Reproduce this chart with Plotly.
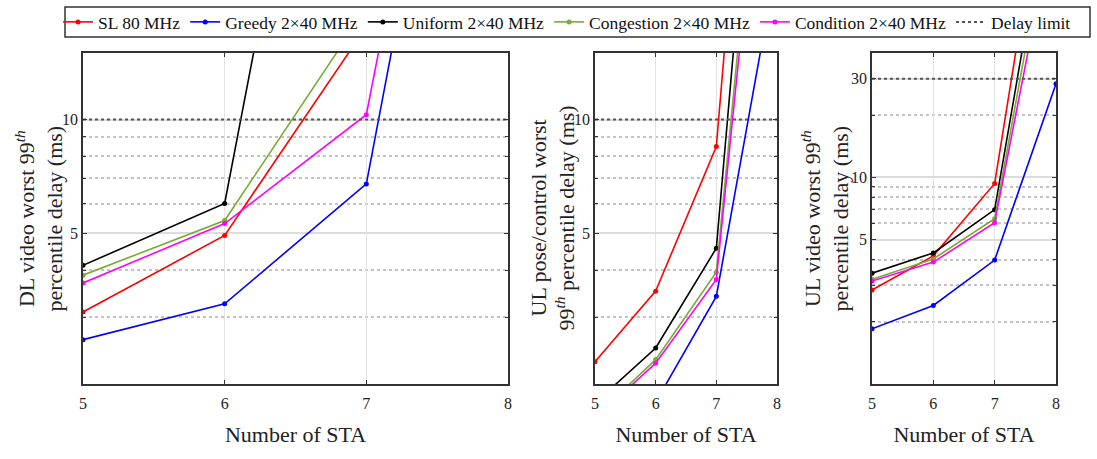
import math
import plotly.graph_objects as go

# ---------------- data ----------------
n_sta = [5, 6, 7, 8]
series_names = ["SL 80 MHz", "Greedy 2×40 MHz", "Uniform 2×40 MHz",
                "Congestion 2×40 MHz", "Condition 2×40 MHz"]
colors = ["#ff0000", "#0000ff", "#000000", "#77ac30", "#ff00ff"]

# DL video worst 99th percentile delay (ms)
dl_sl = [3.10, 4.94, 17.6, 800]
dl_greedy = [2.62, 3.26, 6.76, 630]
dl_uniform = [4.12, 6.00, 537, 900]
dl_congestion = [3.88, 5.41, 19.7, 800]
dl_condition = [3.70, 5.31, 10.3, 850]

# UL pose/control worst 99th percentile delay (ms)
ulp_sl = [2.29, 3.52, 8.49, 680]
ulp_greedy = [1.30, 1.79, 3.41, 26.4]
ulp_uniform = [1.78, 2.49, 4.57, 323]
ulp_congestion = [1.64, 2.32, 3.95, 180]
ulp_condition = [1.62, 2.27, 3.78, 144]

# UL video worst 99th percentile delay (ms)
ulv_sl = [2.85, 4.17, 9.35, 660]
ulv_greedy = [1.85, 2.40, 3.98, 28.4]
ulv_uniform = [3.44, 4.31, 6.98, 365]
ulv_congestion = [3.21, 4.03, 6.31, 270]
ulv_condition = [3.15, 3.89, 6.03, 200]

delay_limits = [10, 10, 30]

panels = [
    [dl_sl, dl_greedy, dl_uniform, dl_congestion, dl_condition],
    [ulp_sl, ulp_greedy, ulp_uniform, ulp_congestion, ulp_condition],
    [ulv_sl, ulv_greedy, ulv_uniform, ulv_congestion, ulv_condition],
]
y_titles = [
    "DL video worst 99<sup><i>th</i></sup><br>percentile delay (ms)",
    "UL pose/control worst<br>99<sup><i>th</i></sup> percentile delay (ms)",
    "UL video worst 99<sup><i>th</i></sup><br>percentile delay (ms)",
]
y_ranges = [[2, 15], [2, 15], [1, 40]]
y_major = [[5, 10], [5, 10], [5, 10, 30]]
y_minor = [[2, 3, 4, 6, 7, 8, 9], [2, 3, 4, 6, 7, 8, 9],
           [2, 3, 4, 6, 7, 8, 9, 20]]

# ---------------- figure ----------------
W, H = 1097, 459
ml, mr, mt, mb = 83, 41, 53, 75
pw = W - ml - mr
ph = H - mt - mb
px = [(83, 508), (595, 777), (872, 1056)]
title_x_px = [39, 552, 825]
domains = [[(a - ml) / pw, (b - ml) / pw] for a, b in px]


def pxx(v):
    return (v - ml) / pw


def pxy(v):
    return 1 + (mt - v) / ph


FONT = "Liberation Serif"
fig = go.Figure()

for p, data in enumerate(panels):
    xa = "x" if p == 0 else f"x{p+1}"
    ya = "y" if p == 0 else f"y{p+1}"
    for i, vals in enumerate(data):
        fig.add_trace(go.Scatter(
            x=n_sta, y=vals, mode="lines+markers", name=series_names[i],
            line=dict(color=colors[i], width=1.6),
            marker=dict(color=colors[i], size=5),
            xaxis=xa, yaxis=ya, showlegend=(p == 0), legendgroup=series_names[i]))
    fig.add_trace(go.Scatter(
        x=[n_sta[0], n_sta[-1]], y=[delay_limits[p]] * 2, mode="lines",
        name="Delay limit", line=dict(color="#555555", width=2, dash="dot"),
        xaxis=xa, yaxis=ya, showlegend=(p == 0), legendgroup="limit"))

annotations = [
    dict(text=y_titles[p], xref="paper", yref="paper", x=pxx(title_x_px[p]), y=0.5,
         xanchor="center", yanchor="middle", textangle=-90, showarrow=False,
         font=dict(family=FONT, size=22, color="#222"))
    for p in range(3)
]

layout = dict(
    width=W, height=H,
    margin=dict(l=ml, r=mr, t=mt, b=mb, autoexpand=False),
    plot_bgcolor="white", paper_bgcolor="white",
    font=dict(family=FONT, color="#222"),
    showlegend=True,
    legend=dict(orientation="h", x=pxx(58), y=pxy(22),
                xanchor="left", yanchor="middle",
                bgcolor="rgba(0,0,0,0)", borderwidth=0,
                font=dict(family=FONT, size=17.5, color="#111"),
                itemwidth=30, tracegroupgap=0, itemclick=False),
    shapes=[dict(type="rect", xref="paper", yref="paper",
                 x0=pxx(65), x1=pxx(1090), y0=pxy(37), y1=pxy(7),
                 line=dict(color="#333", width=1.5), fillcolor="rgba(0,0,0,0)")],
    annotations=annotations,
)
for p in range(3):
    sx = "" if p == 0 else str(p + 1)
    layout[f"xaxis{sx}"] = dict(
        domain=domains[p], range=[5, 8], tickvals=n_sta,
        anchor="y" + sx if p else "y",
        showline=True, mirror="ticks", linecolor="#333", linewidth=1.5,
        ticks="inside", ticklen=4, tickcolor="#333", ticklabelstandoff=4,
        showgrid=True, gridcolor="#e3e3e3", gridwidth=1, zeroline=False,
        tickfont=dict(family=FONT, size=16, color="#222"),
        title=dict(text="Number of STA", font=dict(family=FONT, size=22, color="#222"),
                   standoff=16))
    lo, hi = y_ranges[p]
    layout[f"yaxis{sx}"] = dict(
        type="log", domain=[0, 1], range=[math.log10(lo), math.log10(hi)],
        anchor="x" + sx if p else "x",
        tickvals=y_major[p], ticktext=[str(v) for v in y_major[p]],
        showline=True, mirror="ticks", linecolor="#333", linewidth=1.5,
        ticks="inside", ticklen=4, tickcolor="#333",
        showgrid=True, gridcolor="#dcdcdc", gridwidth=1.5, zeroline=False,
        minor=dict(tickvals=y_minor[p], showgrid=True, griddash="dot",
                   gridcolor="#c4c4c4", gridwidth=1.5, ticks="inside",
                   ticklen=3, tickcolor="#333"),
        tickfont=dict(family=FONT, size=16, color="#222"))
fig.update_layout(**layout)
fig.write_html("out.html", config={"displayModeBar": False},
               post_script="document.body.style.margin='0px';")
